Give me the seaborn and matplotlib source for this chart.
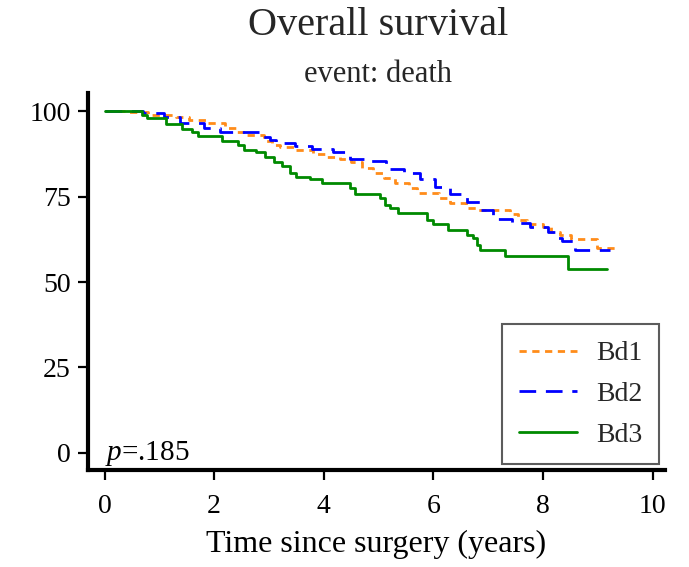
import numpy as np
import pandas as pd
import matplotlib
matplotlib.use("Agg")
import matplotlib.pyplot as plt
import seaborn as sns

# step points (time in years, survival in %)
bd1_time = [0, 0.40, 0.80, 1.30, 1.55, 1.85, 2.20, 2.40, 2.60, 2.90, 3.05, 3.20, 3.50,
            3.80, 4.05, 4.30, 4.50, 4.70, 4.90, 5.10, 5.30, 5.55, 5.70, 6.10, 6.30,
            6.60, 6.80, 7.40, 7.55, 7.70, 8.00, 8.15, 8.30, 8.50, 8.98, 9.34]
bd1_surv = [100, 99.7, 99.0, 98.2, 97.4, 96.5, 95.0, 94.0, 93.0, 91.2, 90.0, 89.5, 88.5,
            87.4, 86.5, 86.0, 85.0, 83.5, 82.0, 80.5, 79.0, 77.5, 76.0, 74.6, 73.0,
            71.6, 71.0, 70.0, 68.0, 67.0, 66.0, 64.6, 63.7, 62.6, 60.0, 60.0]

bd2_time = [0, 0.70, 1.09, 1.37, 1.82, 2.10, 2.81, 3.01, 3.12, 3.47, 3.78, 4.16, 4.47,
            4.74, 5.13, 5.47, 5.75, 6.02, 6.31, 6.62, 6.84, 7.08, 7.43, 7.76, 8.08,
            8.21, 8.34, 8.58, 9.22]
bd2_surv = [100, 99.4, 98.2, 96.5, 95.0, 94.0, 92.5, 91.5, 90.6, 89.8, 89.0, 88.0, 86.0,
            85.4, 83.0, 82.0, 80.0, 77.8, 75.7, 73.5, 71.0, 68.4, 67.3, 66.0, 64.6,
            63.0, 62.0, 59.4, 59.4]

bd3_time = [0, 0.68, 0.77, 1.13, 1.41, 1.59, 1.70, 2.14, 2.43, 2.55, 2.77, 2.92, 3.10,
            3.23, 3.38, 3.50, 3.74, 3.96, 4.47, 4.56, 5.02, 5.11, 5.20, 5.35, 5.89,
            5.99, 6.26, 6.62, 6.72, 6.79, 6.84, 7.30, 8.45, 9.16]
bd3_surv = [100, 99.0, 98.0, 96.2, 94.7, 93.9, 92.7, 91.2, 90.0, 88.6, 88.0, 86.5, 85.0,
            84.0, 82.0, 80.7, 80.0, 79.0, 77.5, 75.7, 74.6, 72.5, 71.6, 70.2, 68.0,
            67.0, 65.2, 63.7, 62.8, 60.8, 59.4, 57.6, 53.8, 53.8]

groups = ["Bd1", "Bd2", "Bd3"]
x_ticks = [0, 2, 4, 6, 8, 10]
y_ticks = [0, 25, 50, 75, 100]

df = pd.concat([
    pd.DataFrame({"time": bd1_time, "surv": bd1_surv, "group": "Bd1"}),
    pd.DataFrame({"time": bd2_time, "surv": bd2_surv, "group": "Bd2"}),
    pd.DataFrame({"time": bd3_time, "surv": bd3_surv, "group": "Bd3"}),
], ignore_index=True)

sns.set_style("white")
plt.rcParams["font.family"] = ["Liberation Serif", "DejaVu Serif"]
plt.rcParams["mathtext.fontset"] = "custom"
plt.rcParams["mathtext.it"] = "Liberation Serif:italic"
plt.rcParams["mathtext.rm"] = "Liberation Serif"

fig = plt.figure(figsize=(6.89, 5.67), dpi=100)
ax = fig.add_axes([0.1270, 0.171, 0.8380, 0.665])

palette = {"Bd1": "#ff8c1a", "Bd2": "#0000ff", "Bd3": "#008a00"}
dashes = {"Bd1": (2.6, 2.0), "Bd2": (6.0, 3.5), "Bd3": ""}

sns.lineplot(data=df, x="time", y="surv", hue="group", style="group",
             hue_order=groups, style_order=groups, palette=palette, dashes=dashes,
             estimator=None, drawstyle="steps-post", linewidth=2.0, ax=ax)

ax.set_xlim(-0.31, 10.22)
ax.set_ylim(-5.0, 105.3)
ax.set_xticks(x_ticks)
ax.set_yticks(y_ticks)
ax.tick_params(axis="both", direction="out", length=7, width=1.6, labelsize=20,
               color="black", labelcolor="black", pad=5)
ax.tick_params(axis="x", bottom=True, pad=10)
ax.tick_params(axis="y", left=True)
for side in ["top", "right"]:
    ax.spines[side].set_visible(False)
for side in ["left", "bottom"]:
    ax.spines[side].set_color("black")
    ax.spines[side].set_linewidth(3)

ax.set_xlabel("Time since surgery (years)", fontsize=23, color="black", labelpad=8)
ax.set_ylabel("")

handles, labels = ax.get_legend_handles_labels()
leg = ax.legend(handles, labels, loc="lower right", fontsize=20, frameon=True,
                fancybox=False, edgecolor="#333333", handlelength=2.1,
                handletextpad=0.7, borderpad=0.6, labelspacing=0.55,
                borderaxespad=0.2)
leg.get_frame().set_linewidth(1.5)

ax.text(0, -2.1, r"$\it{p}$=.185", fontsize=21, ha="left", va="baseline",
        color="black")

fig.text(0.549, 0.938, "Overall survival", fontsize=29, ha="center", va="baseline")
fig.text(0.549, 0.855, "event: death", fontsize=22, ha="center", va="baseline")

fig.savefig("out.png", dpi=100)
